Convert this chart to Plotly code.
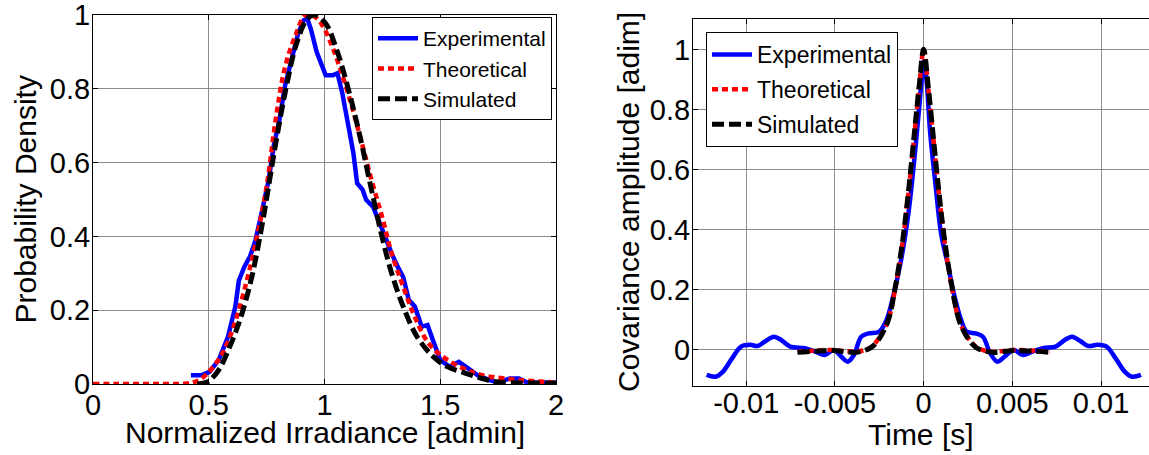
import plotly.graph_objects as go

# ---------------- Left panel: probability density ----------------
irr_exp = [0.423, 0.47, 0.503, 0.543, 0.583, 0.615, 0.63, 0.654, 0.678, 0.702, 0.734, 0.758, 0.782, 0.805,
           0.83, 0.862, 0.886, 0.91, 0.926, 0.942, 0.966, 0.982, 1.005, 1.037, 1.056, 1.077, 1.10, 1.125,
           1.141, 1.165, 1.18, 1.21, 1.245, 1.27, 1.29, 1.316, 1.34, 1.364, 1.39, 1.42, 1.445, 1.468, 1.50,
           1.54, 1.58, 1.61, 1.66, 1.71, 1.75, 1.80, 1.84, 1.875, 2.0]
pdf_exp = [0.024, 0.024, 0.033, 0.065, 0.128, 0.21, 0.28, 0.318, 0.345, 0.39, 0.48, 0.55, 0.65, 0.715,
           0.81, 0.896, 0.95, 0.986, 0.99, 0.96, 0.90, 0.874, 0.837, 0.837, 0.842, 0.788, 0.715, 0.625,
           0.544, 0.526, 0.499, 0.48, 0.426, 0.381, 0.354, 0.318, 0.29, 0.228, 0.21, 0.155, 0.16, 0.119, 0.065,
           0.047, 0.06, 0.047, 0.024, 0.011, 0.004, 0.015, 0.015, 0.004, 0.004]

irr_th = [0, 0.1, 0.2, 0.3, 0.4, 0.45, 0.495, 0.559, 0.607, 0.654, 0.702, 0.75, 0.79, 0.83, 0.878, 0.918,
          0.958, 0.99, 1.03, 1.07, 1.11, 1.15, 1.20, 1.25, 1.29, 1.34, 1.39, 1.45, 1.52, 1.60, 1.68, 1.84, 2.0]
pdf_th = [0, 0, 0, 0, 0.001, 0.008, 0.029, 0.083, 0.155, 0.255, 0.381, 0.535, 0.72, 0.86, 0.95, 1.0,
          0.995, 0.973, 0.92, 0.85, 0.77, 0.68, 0.56, 0.45, 0.354, 0.264, 0.182, 0.11, 0.07, 0.042, 0.024, 0.011, 0.004]

irr_sim = [0.45, 0.495, 0.543, 0.59, 0.638, 0.686, 0.734, 0.782, 0.83, 0.878, 0.926, 0.958, 1.005, 1.053,
           1.10, 1.15, 1.20, 1.245, 1.29, 1.34, 1.40, 1.47, 1.53, 1.61, 1.68, 1.74, 1.85, 2.0]
pdf_sim = [0.0, 0.006, 0.038, 0.10, 0.18, 0.29, 0.444, 0.625, 0.79, 0.92, 0.99, 1.0, 0.977, 0.905,
           0.806, 0.68, 0.535, 0.408, 0.30, 0.21, 0.128, 0.074, 0.047, 0.029, 0.015, 0.006, 0.003, 0.002]

# ---------------- Right panel: covariance ----------------
lag_exp = [-0.01223, -0.01172, -0.01131, -0.0108, -0.01029, -0.00977, -0.00936, -0.00895, -0.00844, -0.00803,
           -0.00752, -0.0067, -0.00609, -0.00557, -0.00506, -0.00465, -0.00428, -0.00393, -0.00352, -0.00311,
           -0.0025, -0.00209, -0.00168, -0.00127, -0.00086, -0.00055, -0.00025, -0.0001, 0.0, 0.00016, 0.00037,
           0.00068, 0.00098, 0.00139, 0.0017, 0.00211, 0.00242, 0.00293, 0.00334, 0.00375, 0.00416, 0.00457,
           0.00508, 0.00559, 0.00611, 0.00672, 0.00744, 0.00795, 0.00836, 0.00887, 0.00928, 0.0098, 0.01031,
           0.01082, 0.01133, 0.01174, 0.01225]
cov_exp = [-0.083, -0.089, -0.072, -0.028, 0.011, 0.017, 0.013, 0.028, 0.044, 0.033,
           0.011, 0.006, -0.006, -0.017, 0.0, -0.022, -0.039, -0.017, 0.044, 0.055,
           0.061, 0.10, 0.188, 0.30, 0.454, 0.62, 0.808, 0.908, 0.96, 0.897, 0.72,
           0.543, 0.388, 0.277, 0.188, 0.10, 0.061, 0.055, 0.044, -0.011, -0.039, -0.022,
           0.0, -0.017, -0.006, 0.006, 0.011, 0.033, 0.044, 0.028, 0.013, 0.017, 0.011,
           -0.028, -0.072, -0.089, -0.083]

lag_th = [-0.00711, -0.00609, -0.00506, -0.00443, -0.00383, -0.00342, -0.00301, -0.0027, -0.0024, -0.00199,
          -0.00158, -0.00117, -0.00086, -0.00055, -0.00025, 0.0, 0.00025, 0.00055, 0.00086, 0.00117, 0.00158,
          0.00199, 0.0024, 0.0027, 0.00301, 0.00342, 0.00383, 0.00443, 0.00506, 0.00609, 0.00711]
cov_th = [-0.006, -0.002, 0.0, -0.004, -0.006, -0.002, 0.008, 0.025, 0.05, 0.10,
          0.21, 0.365, 0.52, 0.70, 0.875, 1.0, 0.875, 0.70, 0.52, 0.365, 0.21,
          0.10, 0.05, 0.025, 0.008, -0.002, -0.006, -0.004, 0.0, -0.002, -0.006]

lag_sim = [-0.00711, -0.00609, -0.00506, -0.00443, -0.00383, -0.00342, -0.00301, -0.0027, -0.0024, -0.00199,
           -0.00158, -0.00117, -0.00086, -0.00055, -0.00025, 0.0, 0.00025, 0.00055, 0.00086, 0.00117, 0.00158,
           0.00199, 0.0024, 0.0027, 0.00301, 0.00342, 0.00383, 0.00443, 0.00506, 0.00609, 0.00711]
cov_sim = [-0.008, -0.004, -0.002, -0.006, -0.008, -0.003, 0.006, 0.022, 0.047, 0.10,
           0.215, 0.37, 0.525, 0.705, 0.88, 1.0, 0.88, 0.705, 0.525, 0.37, 0.215,
           0.10, 0.047, 0.022, 0.006, -0.003, -0.008, -0.006, -0.002, -0.004, -0.008]

left_xticks = [0, 0.5, 1, 1.5, 2]
left_xticktext = ["0", "0.5", "1", "1.5", "2"]
yticks = [0, 0.2, 0.4, 0.6, 0.8, 1]
yticktext = ["0", "0.2", "0.4", "0.6", "0.8", "1"]
right_xticks = [-0.01, -0.005, 0, 0.005, 0.01]
right_xticktext = ["-0.01", "-0.005", "0", "0.005", "0.01"]

names = ["Experimental", "Theoretical", "Simulated"]

FONT = "Liberation Sans, Arial, sans-serif"
W, H = 1149, 455

fig = go.Figure()

blue = dict(color="#0000ff", width=4.5)
red = dict(color="#ff0000", width=4.5, dash="6px,4px")
black = dict(color="#000000", width=5, dash="12px,5px")

fig.add_trace(go.Scatter(x=irr_exp, y=pdf_exp, mode="lines", line=blue, name=names[0],
                         xaxis="x", yaxis="y", legend="legend", legendgroup="a"))
fig.add_trace(go.Scatter(x=irr_th, y=pdf_th, mode="lines", line=dict(red, shape="spline"), name=names[1],
                         xaxis="x", yaxis="y", legend="legend", legendgroup="b"))
fig.add_trace(go.Scatter(x=irr_sim, y=pdf_sim, mode="lines", line=dict(black, shape="spline"), name=names[2],
                         xaxis="x", yaxis="y", legend="legend", legendgroup="c"))

fig.add_trace(go.Scatter(x=lag_exp, y=cov_exp, mode="lines", line=dict(blue, shape="spline"), name=names[0],
                         xaxis="x2", yaxis="y2", legend="legend2", legendgroup="d"))
fig.add_trace(go.Scatter(x=lag_th, y=cov_th, mode="lines", line=dict(red, shape="spline"), name=names[1],
                         xaxis="x2", yaxis="y2", legend="legend2", legendgroup="e"))
fig.add_trace(go.Scatter(x=lag_sim, y=cov_sim, mode="lines", line=dict(black, shape="spline"), name=names[2],
                         xaxis="x2", yaxis="y2", legend="legend2", legendgroup="f"))

axis_common = dict(showline=True, linecolor="black", linewidth=1, ticks="inside", ticklen=5,
                   tickcolor="black", showgrid=True, gridcolor="#8c8c8c", gridwidth=1, zeroline=False,
                   ticklabeloverflow="allow", automargin=False,
                   tickfont=dict(family=FONT, size=29, color="black"))

fig.update_layout(
    width=W, height=H,
    margin=dict(l=0, r=0, t=0, b=0, autoexpand=False),
    paper_bgcolor="white", plot_bgcolor="white",
    font=dict(family=FONT, color="black"),
    xaxis=dict(axis_common, domain=[93 / W, 556 / W], range=[0, 2], tickvals=left_xticks,
               ticktext=left_xticktext, mirror="ticks", anchor="y", ticklabelstandoff=-5),
    yaxis=dict(axis_common, domain=[1 - 384 / H, 1 - 15 / H], range=[0, 1], tickvals=yticks,
               ticktext=yticktext, mirror="ticks", anchor="x", ticklabelstandoff=-4),
    xaxis2=dict(axis_common, domain=[693 / W, 1.0], range=[-0.013, 0.0127], tickvals=right_xticks,
                ticktext=right_xticktext, mirror="ticks", anchor="y2", ticklabelstandoff=-9),
    yaxis2=dict(axis_common, domain=[1 - 386 / H, 1 - 19.3 / H], range=[-0.12, 1.1], tickvals=yticks,
                ticktext=yticktext, mirror=False, anchor="x2", ticklabelstandoff=-4),
    legend=dict(x=372 / W, y=1 - 17 / H, xanchor="left", yanchor="top", bgcolor="white",
                bordercolor="black", borderwidth=1, tracegroupgap=0, itemwidth=40,
                font=dict(family=FONT, size=21, color="black")),
    legend2=dict(x=706 / W, y=1 - 32 / H, xanchor="left", yanchor="top", bgcolor="white",
                 bordercolor="black", borderwidth=1, tracegroupgap=2, itemwidth=40,
                 font=dict(family=FONT, size=23, color="black")),
    showlegend=True,
)

title_font = dict(family=FONT, size=30, color="black")
fig.add_annotation(text="Normalized Irradiance [admin]", xref="paper", yref="paper",
                   x=324.5 / W, y=1 - 432 / H, xanchor="center", yanchor="middle",
                   showarrow=False, font=title_font)
fig.add_annotation(text="Probability Density", xref="paper", yref="paper",
                   x=25 / W, y=1 - 199.5 / H, xanchor="center", yanchor="middle",
                   textangle=-90, showarrow=False, font=title_font)
fig.add_annotation(text="Time [s]", xref="paper", yref="paper",
                   x=921 / W, y=1 - 434 / H, xanchor="center", yanchor="middle",
                   showarrow=False, font=title_font)
fig.add_annotation(text="Covariance amplitude [adim]", xref="paper", yref="paper",
                   x=628 / W, y=1 - 202 / H, xanchor="center", yanchor="middle",
                   textangle=-90, showarrow=False, font=title_font)

fig.write_html("out.html")
